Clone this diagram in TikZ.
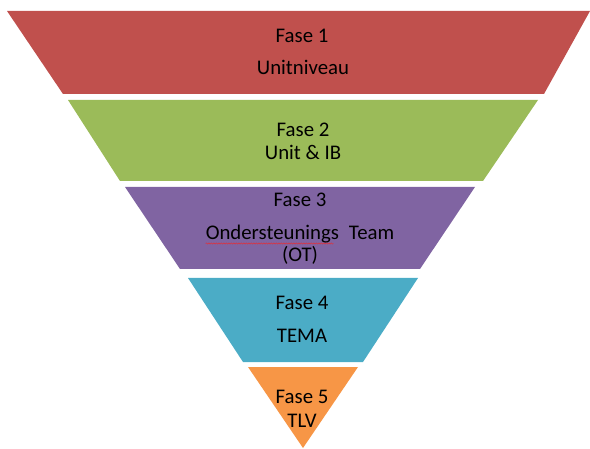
\documentclass[tikz,border=0pt]{standalone}
\usepackage{fontspec}
\setmainfont{Carlito}
\usetikzlibrary{decorations.pathmorphing,calc}
\definecolor{cRed}{HTML}{C0504D}
\definecolor{cGreen}{HTML}{9BBB59}
\definecolor{cPurple}{HTML}{8064A2}
\definecolor{cBlue}{HTML}{4BACC6}
\definecolor{cOrange}{HTML}{F79646}
\definecolor{cSpell}{HTML}{E0303A}
\begin{document}
\begin{tikzpicture}[x=1pt,y=1pt,
  lbl/.style={anchor=base,inner sep=0pt,font=\fontsize{20.8}{24}\selectfont}]
\useasboundingbox (0,0) rectangle (590,448);
\fill[cRed]    (7,437) -- (590,437) -- (544,354) -- (63,354) -- cycle;
\fill[cGreen]  (68,348) -- (538,348) -- (483,267) -- (120,267) -- cycle;
\fill[cPurple] (125,261) -- (475,261) -- (420,179) -- (180,179) -- cycle;
\fill[cBlue]   (188,170) -- (418,170) -- (363,86) -- (243,86) -- cycle;
\fill[cOrange] (248,81) -- (358,81) -- (303,0) -- cycle;
\node[lbl] (f1) at (302,405) {Fase 1};
\node[lbl] (u1) at (303,373) {Unitniveau};
\node[lbl] (f2) at (303,311) {Fase 2};
\node[lbl] (u2) at (303,288) {Unit \& IB};
\node[lbl] (f3) at (300,241) {Fase 3};
\node[lbl] (u3) at (300,208) {Ondersteunings\hspace{0.25em} Team};
\node[lbl] (u3b) at (300,186) {(OT)};
\node[lbl] (f4) at (302,138) {Fase 4};
\node[lbl] (u4) at (302,105) {TEMA};
\node[lbl] (f5) at (302,45) {Fase 5};
\node[lbl] (u5) at (302,21) {TLV};
\coordinate (sqA) at ($(u3.base west)+(0,-3.5)$);
\coordinate (sqB) at ($(u3.base west)+(128,-3.5)$);
\draw[cSpell,line width=0.45pt,decorate,decoration={snake,amplitude=0.6pt,segment length=2.5pt}] (sqA) -- (sqB);
\end{tikzpicture}
\end{document}
